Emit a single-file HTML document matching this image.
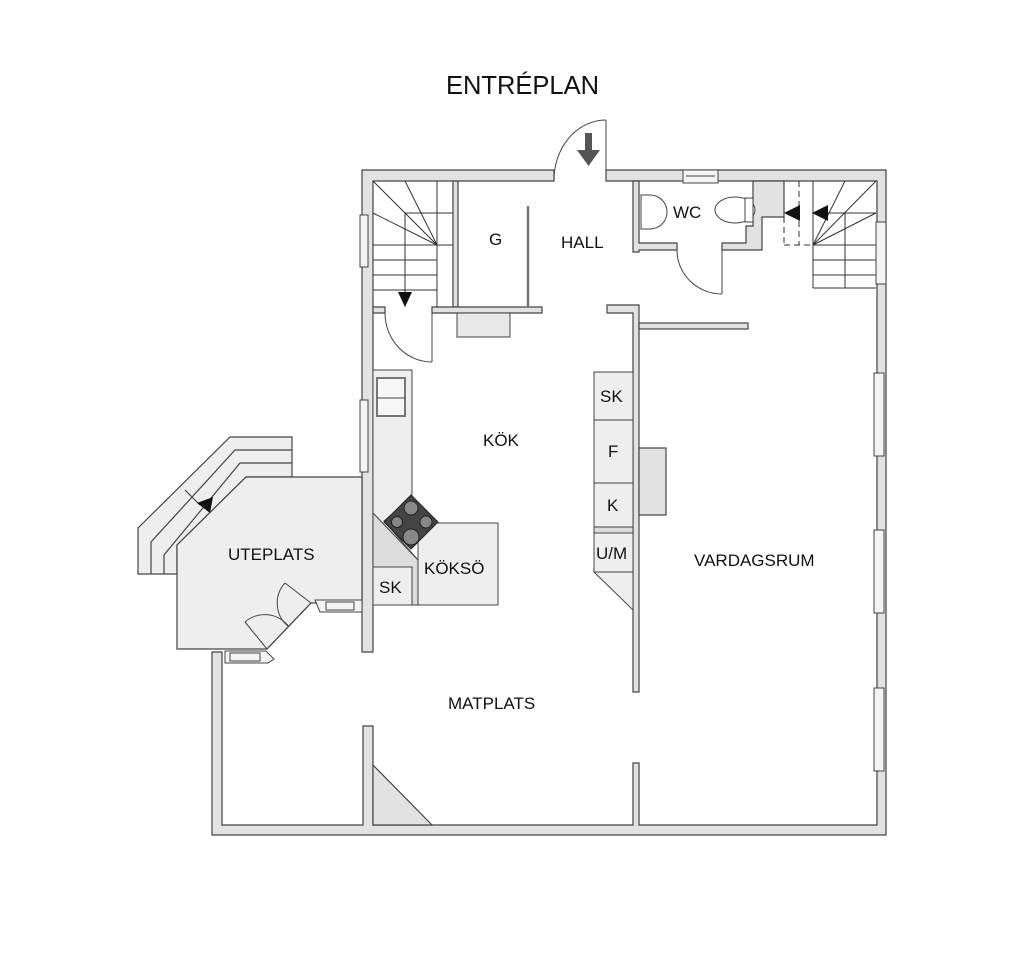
<!DOCTYPE html>
<html><head><meta charset="utf-8"><style>
html,body{margin:0;padding:0;background:#fff;}
svg{display:block;}
text{font-family:"Liberation Sans",sans-serif;fill:#111;}
</style></head><body>
<svg width="1024" height="953" viewBox="0 0 1024 953" xmlns="http://www.w3.org/2000/svg">
<g stroke="#444" stroke-width="1.2" fill="#e2e2e2">
<!-- outer walls -->
<path d="M362,170 H554 V181 H373 V652 H362 Z"/>
<path d="M606,170 H886 V835 H212 V652 H222 V825 H363 V726 H373 V825 H633 V763 H639 V825 H877 V181 H606 Z"/>
<!-- wall between stair & G -->
<rect x="453" y="181" width="5" height="126"/>
<!-- horizontal wall below stair/G -->
<path d="M373,307 H385 V313 H373 Z"/>
<path d="M432,307 H542 V313 H432 Z"/>
<!-- hall/vardagsrum walls -->
<path d="M607,305 H633 V305 H639 V692 H633 V313 H607 Z"/>
<rect x="639" y="323" width="109" height="6"/>
<!-- WC walls -->
<path d="M633,181 H639 V243 H677 V250 H639 V252 H633 Z"/>
<path d="M722,243 H746 V226 H753 V181 H784 V217 H762 V250 H722 Z"/>
<!-- chimney -->
<rect x="639" y="448" width="27" height="67"/>
<!-- matplats diagonal -->
<path d="M373,765 L432,825 H373 Z"/>
</g>
<!-- steps deck -->
<g stroke="#444" stroke-width="1.2">
<path d="M138,574 V528 L230,437 H292 V477 H246 L177,545 V574 Z" fill="#eeeeee"/>
<path d="M151,574 V542 L235,450 H292" fill="none"/>
<path d="M164,574 V555 L240,463 H292" fill="none"/>
<path d="M185,490 L200,505" fill="none"/>
<path d="M177,649 V545 L246,477 H362 V603 H311 L267,649 Z" fill="#eeeeee"/>
</g>
<path d="M197,503 L213,497 L210,513 Z" fill="#111"/>
<!-- uteplats doors -->
<g stroke="#444" stroke-width="1" fill="none">
<path d="M311,603 L285,583"/><path d="M285,583 A30,30 0 0 0 289,627"/>
<path d="M267,649 L245,622"/><path d="M245,622 A30,30 0 0 1 289,627"/>
<path d="M311,603 L267,649"/>
</g>
<g stroke="#444" stroke-width="1" fill="#f4f4f4">
<path d="M315,600 H362 V612 H320 Z"/>
<rect x="326" y="602" width="28" height="8"/>
<path d="M225,651 H266 L274,659 L268,663 H225 Z"/>
<rect x="230" y="653" width="30" height="8"/>
<!-- top windows -->
<rect x="683" y="170" width="35" height="13"/>
<line x1="686" y1="176" x2="715" y2="176"/>
<!-- left windows -->
<rect x="360" y="215" width="8" height="52"/>
<rect x="360" y="400" width="8" height="72"/>
<!-- right windows -->
<rect x="876" y="222" width="10" height="62"/>
<rect x="874" y="373" width="10" height="83"/>
<rect x="874" y="530" width="10" height="83"/>
<rect x="874" y="688" width="10" height="83"/>
</g>
<!-- main door -->
<g stroke="#444" stroke-width="1" fill="none">
<line x1="606" y1="120" x2="606" y2="181"/>
<path d="M606,120 A52,60 0 0 0 554,181"/>
<!-- stair door -->
<line x1="432" y1="313" x2="432" y2="362"/>
<path d="M385,313 A47,49 0 0 0 432,362"/>
<!-- WC door -->
<line x1="722" y1="250" x2="722" y2="294"/>
<path d="M677,250 A45,44 0 0 0 722,294"/>
<!-- G sliding -->
<line x1="528" y1="206" x2="528" y2="307" stroke-width="2.5" stroke="#777"/>
</g>
<path d="M585,133 H592 V150 H600 L588.5,166 L577,150 H585 Z" fill="#555"/>
<!-- G box -->
<rect x="457" y="313" width="53" height="24" fill="#e8e8e8" stroke="#444"/>
<!-- left stair -->
<g stroke="#333" stroke-width="1" fill="none">
<line x1="437" y1="181" x2="437" y2="307"/>
<line x1="405" y1="213" x2="405" y2="307"/>
<line x1="405" y1="213" x2="453" y2="213"/>
<line x1="373" y1="245" x2="453" y2="245"/>
<line x1="373" y1="260" x2="437" y2="260"/>
<line x1="373" y1="275" x2="437" y2="275"/>
<line x1="373" y1="290" x2="437" y2="290"/>
<line x1="437" y1="245" x2="373" y2="181"/>
<line x1="437" y1="245" x2="405" y2="181"/>
<line x1="437" y1="245" x2="373" y2="213"/>
<!-- right stair -->
<line x1="813" y1="181" x2="813" y2="288"/>
<line x1="845" y1="213" x2="845" y2="288"/>
<line x1="813" y1="213" x2="876" y2="213"/>
<line x1="813" y1="245" x2="876" y2="245"/>
<line x1="813" y1="260" x2="876" y2="260"/>
<line x1="813" y1="275" x2="876" y2="275"/>
<line x1="813" y1="288" x2="876" y2="288"/>
<line x1="813" y1="245" x2="845" y2="181"/>
<line x1="813" y1="245" x2="876" y2="181"/>
<line x1="813" y1="245" x2="876" y2="213"/>
<g stroke-dasharray="6,4">
<line x1="784" y1="217" x2="784" y2="245"/>
<line x1="799" y1="181" x2="799" y2="245"/>
<line x1="784" y1="245" x2="813" y2="245"/>
</g>
</g>
<path d="M405,307 L398,292 H412 Z" fill="#111"/>
<path d="M784,213 L800,205 V221 Z" fill="#111"/>
<path d="M812,213 L828,205 V221 Z" fill="#111"/>
<!-- WC fixtures -->
<g stroke="#444" stroke-width="1" fill="#fff">
<path d="M641,195 H650 A17,17 0 0 1 650,229 H641 Z"/>
<ellipse cx="735" cy="210" rx="20" ry="13"/>
<rect x="745" y="198" width="8" height="24"/>
</g>
<!-- kitchen counter -->
<g stroke="#444" stroke-width="1">
<path d="M373,370 H412 V497 L384,521 L418,560 V605 H373 Z" fill="#eeeeee"/>
<path d="M373,513 L418,560 V605 H373 Z" fill="#dcdcdc"/>
<rect x="418" y="523" width="80" height="82" fill="#eeeeee"/>
<rect x="373" y="567" width="39" height="38" fill="#eeeeee"/>
<rect x="377" y="378" width="28" height="38" fill="#f6f6f6" stroke="#777" stroke-width="2"/>
<line x1="377" y1="398" x2="405" y2="398"/>
<path d="M411,495 L438,522 L411,549 L384,522 Z" fill="#444" stroke="#222"/>
<g fill="#888" stroke="#222">
<circle cx="411" cy="508" r="7"/><circle cx="411" cy="537" r="8"/>
<circle cx="397" cy="522" r="5.5"/><circle cx="426" cy="522" r="6"/>
</g>
<!-- right cabinets -->
<g fill="#eeeeee">
<rect x="594" y="372" width="39" height="48"/>
<rect x="594" y="420" width="39" height="63"/>
<rect x="594" y="483" width="39" height="44"/>
<rect x="594" y="527" width="39" height="6" fill="#dcdcdc"/>
<rect x="594" y="533" width="39" height="39"/>
<path d="M594,572 H633 V610 Z"/>
</g>
</g>
<text x="446" y="94" font-size="25.5">ENTRÉPLAN</text>
<g font-size="17">
<text x="489" y="245">G</text>
<text x="561" y="248">HALL</text>
<text x="673" y="218">WC</text>
<text x="483" y="446">KÖK</text>
<text x="600" y="402">SK</text>
<text x="608" y="457">F</text>
<text x="607" y="511">K</text>
<text x="596" y="559">U/M</text>
<text x="228" y="560">UTEPLATS</text>
<text x="424" y="574">KÖKSÖ</text>
<text x="379" y="593">SK</text>
<text x="694" y="566">VARDAGSRUM</text>
<text x="448" y="709">MATPLATS</text>
</g>
</svg>
</body></html>
